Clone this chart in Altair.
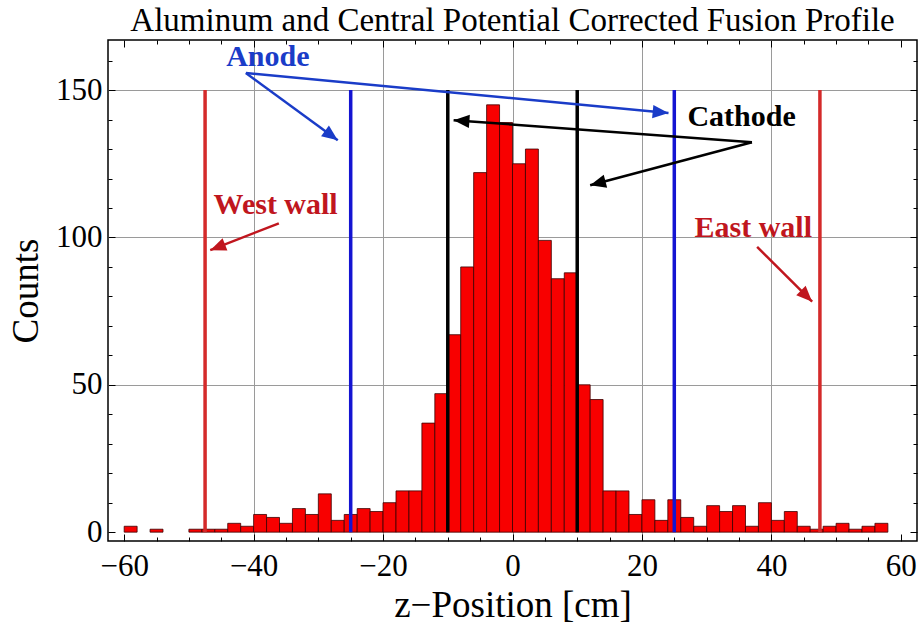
import math
import altair as alt
import pandas as pd

# ---------------- data ----------------
bin_left = list(range(-60, 58, 2))
counts = [2, 0, 1, 0, 0, 1, 1, 1, 3, 2,
          6, 5, 3, 8, 6, 13, 4, 6, 8, 7,
          10, 14, 14, 37, 47, 67, 90, 122, 145, 139,
          125, 130, 99, 86, 88, 50, 45, 14, 14, 6,
          11, 4, 11, 5, 2, 9, 7, 9, 2, 10,
          4, 7, 2, 1, 2, 3, 1, 2, 3]
bin_width = 2

marker_x = [-47.5, -25, -10, 10, 25, 47.5]
marker_color = ["#d42a2a", "#1414d2", "#000000", "#000000", "#1414d2", "#d42a2a"]
marker_y0 = 0
marker_y1 = 150

label_text = ["Anode", "Cathode", "West wall", "East wall"]
label_x = [-37.8, 35.4, -36.6, 37.2]
label_y = [161.2, 140.8, 111.0, 103.2]
label_color = ["#1a3cc8", "#000000", "#c0161e", "#c0161e"]

arrow_x0 = [-41.2, -41.2, 37.0, 37.0, -36.1, 37.8]
arrow_y0 = [155.8, 155.8, 132.3, 132.3, 104.8, 96.8]
arrow_x1 = [-27.0, 24.1, -9.1, 12.0, -46.7, 46.3]
arrow_y1 = [133.0, 142.2, 139.8, 117.7, 95.7, 78.2]
arrow_color = ["#1a3cc8", "#1a3cc8", "#000000", "#000000", "#c0161e", "#c0161e"]

x_labels = [-60, -40, -20, 0, 20, 40, 60]
x_ticks = list(range(-60, 61, 5))
y_labels = [0, 50, 100, 150]
y_ticks = list(range(0, 161, 10))

# ---------------- layout ----------------
W, H = 809, 501
XDOM = [-62.5, 62.5]
YDOM = [-3, 167]
SERIF = "Liberation Serif"

xs = alt.Scale(domain=XDOM, nice=False, zero=False)
ys = alt.Scale(domain=YDOM, nice=False, zero=False)

hist = pd.DataFrame({"left": bin_left, "count": counts})
hist["right"] = hist["left"] + bin_width
hist["base"] = 0
hist = hist[hist["count"] > 0]

markers = pd.DataFrame({"x": marker_x, "color": marker_color,
                        "y0": marker_y0, "y1": marker_y1})
labels = pd.DataFrame({"text": label_text, "x": label_x, "y": label_y, "color": label_color})

kx = W / (XDOM[1] - XDOM[0])
ky = H / (YDOM[1] - YDOM[0])
angles = []
for a0, b0, a1, b1 in zip(arrow_x0, arrow_y0, arrow_x1, arrow_y1):
    ang = math.degrees(math.atan2((a1 - a0) * kx, (b1 - b0) * ky)) % 360
    angles.append(ang)
arrows = pd.DataFrame({"x0": arrow_x0, "y0": arrow_y0, "x1": arrow_x1, "y1": arrow_y1,
                       "color": arrow_color, "angle": angles})

def tick_axis(orient, values, offset, major):
    return alt.Axis(orient=orient, values=values, offset=offset, labels=False,
                    domain=False, grid=False, title=None, ticks=True,
                    tickColor="black", tickWidth=1,
                    tickSize={"condition": {"test": f"datum.value % {major} === 0", "value": 7},
                              "value": 4},
                    zindex=1)

# main bars with labelled axes
bars = alt.Chart(hist).mark_rect(color="#f80000", stroke="#3a0000", strokeWidth=0.8).encode(
    x=alt.X("left:Q", scale=xs,
            axis=alt.Axis(orient="bottom", values=x_labels, ticks=False, domain=False,
                          labelFont=SERIF, labelFontSize=31, labelColor="black", labelPadding=10,
                          title="z−Position [cm]", titleFont=SERIF, titleFontSize=37,
                          titleFontWeight="normal", titleColor="black", titlePadding=6,
                          grid=True, gridColor="#9a9a9a", gridWidth=1,
                          gridOpacity={"condition": {"test": "abs(datum.value) < 60", "value": 1},
                                       "value": 0},
                          zindex=0)),
    x2="right:Q",
    y=alt.Y("count:Q", scale=ys,
            axis=alt.Axis(orient="left", values=y_labels, ticks=False, domain=False,
                          labelFont=SERIF, labelFontSize=31, labelColor="black", labelPadding=6,
                          title="Counts", titleFont=SERIF, titleFontSize=37,
                          titleFontWeight="normal", titleColor="black", titlePadding=10,
                          grid=True, gridColor="#9a9a9a", gridWidth=1,
                          gridOpacity={"condition": {"test": "datum.value > 0", "value": 1},
                                       "value": 0},
                          zindex=0)),
    y2="base:Q",
)

# vertical marker lines (+ inward ticks on bottom and left frame)
rules = alt.Chart(markers).mark_rule(strokeWidth=3.5).encode(
    x=alt.X("x:Q", scale=xs, axis=tick_axis("top", x_ticks, -H, 20)),
    y=alt.Y("y0:Q", scale=ys, axis=tick_axis("right", y_ticks, -W, 50)),
    y2="y1:Q",
    color=alt.Color("color:N", scale=None),
)

# arrow shafts (+ inward ticks on top and right frame)
shafts = alt.Chart(arrows).mark_rule(strokeWidth=2.5).encode(
    x=alt.X("x0:Q", scale=xs, axis=tick_axis("bottom", x_ticks, -H, 20)),
    y=alt.Y("y0:Q", scale=ys, axis=tick_axis("left", y_ticks, -W, 50)),
    x2="x1:Q",
    y2="y1:Q",
    color=alt.Color("color:N", scale=None),
)

heads = alt.Chart(arrows).mark_point(
    shape="M0,0L-0.42,1L0.42,1Z", filled=True, opacity=1, size=1000, strokeWidth=0
).encode(
    x=alt.X("x1:Q", scale=xs, axis=None),
    y=alt.Y("y1:Q", scale=ys, axis=None),
    angle=alt.Angle("angle:Q", scale=None),
    color=alt.Color("color:N", scale=None),
)

texts = alt.Chart(labels).mark_text(
    font=SERIF, fontSize=30, fontWeight="bold", align="center", baseline="middle"
).encode(
    x=alt.X("x:Q", scale=xs, axis=None),
    y=alt.Y("y:Q", scale=ys, axis=None),
    text="text:N",
    color=alt.Color("color:N", scale=None),
)

chart = alt.layer(bars, rules, shafts, heads, texts).resolve_axis(
    x="independent", y="independent"
).properties(
    width=W, height=H,
    autosize=alt.AutoSizeParams(type="none"),
    padding={"left": 108, "top": 40, "right": 2, "bottom": 87},
    background="white",
    title=alt.TitleParams("Aluminum and Central Potential Corrected Fusion Profile",
                          font=SERIF, fontSize=33, fontWeight="normal", color="black",
                          anchor="middle", offset=2),
).configure_view(stroke="black", strokeWidth=1.5)

chart.save("out.html", embed_options={"renderer": "svg", "actions": False})
